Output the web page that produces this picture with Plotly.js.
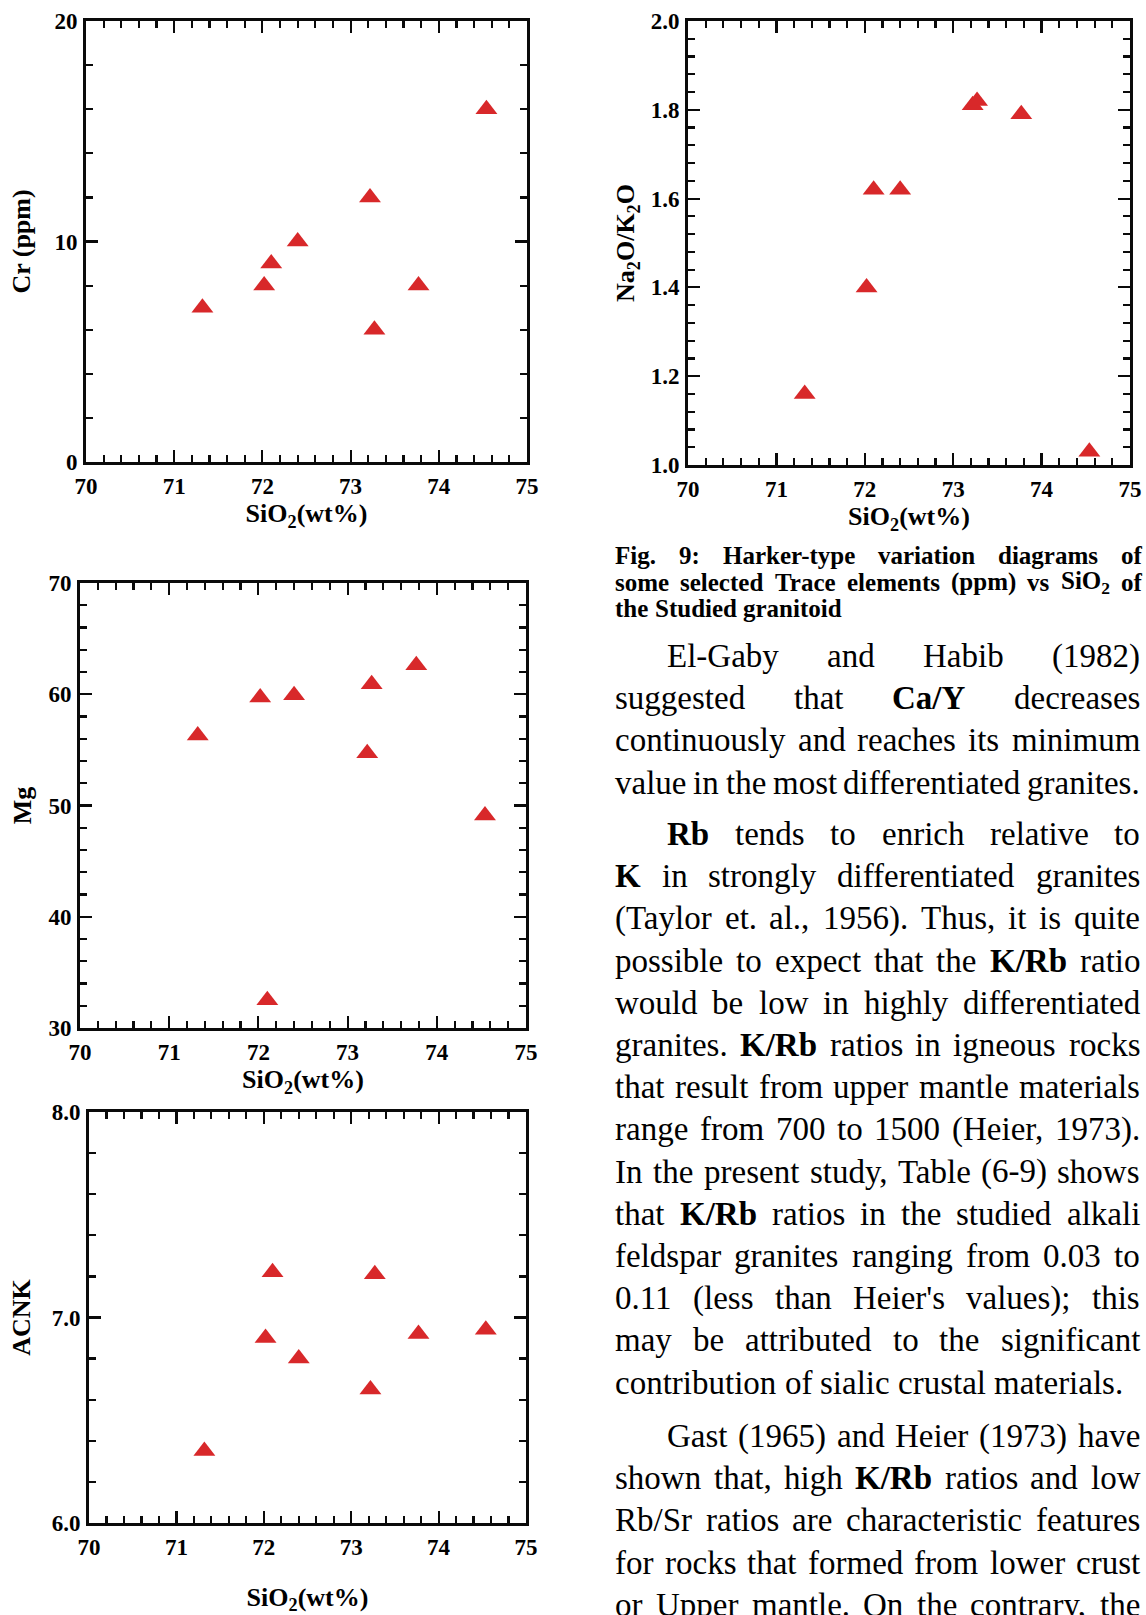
<!DOCTYPE html>
<html>
<head>
<meta charset="utf-8">
<script src="https://cdn.plot.ly/plotly-3.0.1.min.js"></script>
<style>
html,body{margin:0;padding:0;background:#fff;}
#chart{width:1146px;height:1615px;}
</style>
</head>
<body>
<div id="chart"></div>
<script>
// ---------------- data ----------------
const sio2 = [71.32, 72.02, 72.10, 72.40, 73.22, 73.27, 73.77, 74.54];
const cr = [7, 8, 9, 10, 12, 6, 8, 16];
const na2oK2o = [1.16, 1.40, 1.62, 1.62, 1.81, 1.82, 1.79, 1.03];
const mg = [56.3, 59.7, 32.5, 59.9, 54.7, 60.9, 62.6, 49.1];
const acnk = [6.35, 6.90, 7.22, 6.80, 6.65, 7.21, 6.92, 6.94];

const xTitle = 'SiO<sub>2</sub>(wt%)';
const yTitles = ['Cr (ppm)', 'Na<sub>2</sub>O/K<sub>2</sub>O', 'Mg', 'ACNK'];

const captionLines = [
  'Fig. 9: Harker-type variation diagrams of',
  'some selected Trace elements (ppm) vs SiO<sub>2</sub> of',
  'the Studied granitoid'
];
// '*' marks a bold word
const paragraphs = [
  [
    'El-Gaby and Habib (1982)',
    'suggested that *Ca/Y decreases',
    'continuously and reaches its minimum',
    'value in the most differentiated granites.'
  ],
  [
    '*Rb tends to enrich relative to',
    '*K in strongly differentiated granites',
    '(Taylor et. al., 1956). Thus, it is quite',
    'possible to expect that the *K/Rb ratio',
    'would be low in highly differentiated',
    'granites. *K/Rb ratios in igneous rocks',
    'that result from upper mantle materials',
    'range from 700 to 1500 (Heier, 1973).',
    'In the present study, Table (6-9) shows',
    'that *K/Rb ratios in the studied alkali',
    'feldspar granites ranging from 0.03 to',
    "0.11 (less than Heier's values); this",
    'may be attributed to the significant',
    'contribution of sialic crustal materials.'
  ],
  [
    'Gast (1965) and Heier (1973) have',
    'shown that, high *K/Rb ratios and low',
    'Rb/Sr ratios are characteristic features',
    'for rocks that formed from lower crust',
    'or Upper mantle. On the contrary, the'
  ]
];

// ---------------- layout helpers ----------------
const W = 1146, H = 1615;
const X = p => p / W;
const Y = p => 1 - p / H;
const SERIF = 'Liberation Serif, Times New Roman, serif';
const bold = s => ({family: SERIF, size: s, color: '#000', weight: 'bold'});
const INK = '#0a0a0a';

function xAxis(l, r, anchor, standoff) {
  return {
    domain: [X(l), X(r)], anchor: anchor,
    range: [70, 75], tick0: 70, dtick: 1,
    ticks: 'inside', ticklen: 12, tickwidth: 2.2, tickcolor: INK,
    showline: true, linewidth: 2.8, linecolor: INK, mirror: 'ticks',
    showgrid: false, zeroline: false,
    tickfont: bold(23), ticklabelstandoff: 2,
    minor: {dtick: 0.2, ticks: 'inside', ticklen: 7, tickwidth: 2.2, tickcolor: INK, showgrid: false},
    title: {text: xTitle, font: bold(26), standoff: standoff},
    fixedrange: true
  };
}
function yAxis(t, b, anchor, range, dtick, minorDtick, fmt, title, standoff) {
  return {
    domain: [Y(b), Y(t)], anchor: anchor,
    range: range, tick0: range[0], dtick: dtick, tickformat: fmt,
    ticks: 'inside', ticklen: 12, tickwidth: 2.2, tickcolor: INK,
    showline: true, linewidth: 2.8, linecolor: INK, mirror: 'ticks',
    showgrid: false, zeroline: false,
    tickfont: bold(23), ticklabelstandoff: 1,
    minor: {dtick: minorDtick, ticks: 'inside', ticklen: 7, tickwidth: 2.2, tickcolor: INK, showgrid: false},
    title: {text: title, font: bold(26), standoff: standoff},
    fixedrange: true
  };
}

const marker = {symbol: 'triangle-up', size: 19, color: '#D8282A', line: {width: 0}};
const traces = [
  {x: sio2, y: cr, xaxis: 'x', yaxis: 'y'},
  {x: sio2, y: na2oK2o, xaxis: 'x2', yaxis: 'y2'},
  {x: sio2, y: mg, xaxis: 'x3', yaxis: 'y3'},
  {x: sio2, y: acnk, xaxis: 'x4', yaxis: 'y4'}
].map(t => Object.assign({type: 'scatter', mode: 'markers', marker: marker, showlegend: false, cliponaxis: false, hoverinfo: 'skip'}, t));

// ---------------- justified text ----------------
const cv = document.createElement('canvas').getContext('2d');
function measure(word, size, isBold) {
  const parts = word.split(/<sub>|<\/sub>/);
  let w = 0;
  parts.forEach((p, i) => {
    const s = (i % 2 === 1) ? size * 0.7 : size;
    cv.font = (isBold ? 'bold ' : '') + s + 'px "Liberation Serif"';
    w += cv.measureText(p).width;
  });
  return w;
}
const annotations = [];
function layLine(line, yc, left, right, size, justify, allBold) {
  const toks = line.split(' ').filter(s => s.length).map(s => {
    const b = allBold || s.startsWith('*');
    const t = s.replace(/^\*/, '');
    return {t: t, b: b, w: measure(t, size, b)};
  });
  const total = toks.reduce((a, k) => a + k.w, 0);
  const space = measure(' ', size, allBold);
  const fit = toks.length > 1 ? (right - left - total) / (toks.length - 1) : space;
  const gap = justify ? fit : Math.min(space, fit);
  let x = left;
  toks.forEach(k => {
    annotations.push({
      xref: 'paper', yref: 'paper', x: X(x), y: Y(yc), xanchor: 'left', yanchor: 'middle',
      text: k.b ? '<b>' + k.t + '</b>' : k.t, showarrow: false, borderpad: 0, borderwidth: 0,
      font: {family: SERIF, size: size, color: '#000'}
    });
    x += k.w + gap;
  });
}

const TL = 615, TR = 1142, INDENT = 52, PITCH = 42.2;
const capY = [555, 582, 609];
captionLines.forEach((ln, i) => layLine(ln, capY[i], TL, TR, 25, i < captionLines.length - 1, true));
const paraStart = [656, 834, 1436];
paragraphs.forEach((p, pi) => {
  p.forEach((ln, li) => {
    const last = (li === p.length - 1) && pi !== paragraphs.length - 1;
    layLine(ln, paraStart[pi] + li * PITCH, TL + (li === 0 ? INDENT : 0), TR - 2, 33, !last, false);
  });
});

const layout = {
  width: W, height: H,
  margin: {l: 0, r: 0, t: 0, b: 0},
  paper_bgcolor: '#fff', plot_bgcolor: '#fff',
  showlegend: false,
  xaxis:  xAxis(86, 527, 'y', 6),
  yaxis:  yAxis(21, 462, 'x', [0, 20], 10, 2, 'd', yTitles[0], 17),
  xaxis2: xAxis(688, 1130, 'y2', 6),
  yaxis2: yAxis(21, 465, 'x2', [1, 2], 0.2, 0.04, '.1f', yTitles[1], 9),
  xaxis3: xAxis(80, 526, 'y3', 6),
  yaxis3: yAxis(583, 1028, 'x3', [30, 70], 10, 2, 'd', yTitles[2], 10),
  xaxis4: xAxis(89, 526, 'y4', 46),
  yaxis4: yAxis(1112, 1523, 'x4', [6, 8], 1, 0.2, '.1f', yTitles[3], 14),
  annotations: annotations
};

Plotly.newPlot('chart', traces, layout, {displayModeBar: false, staticPlot: true});
</script>
</body>
</html>
